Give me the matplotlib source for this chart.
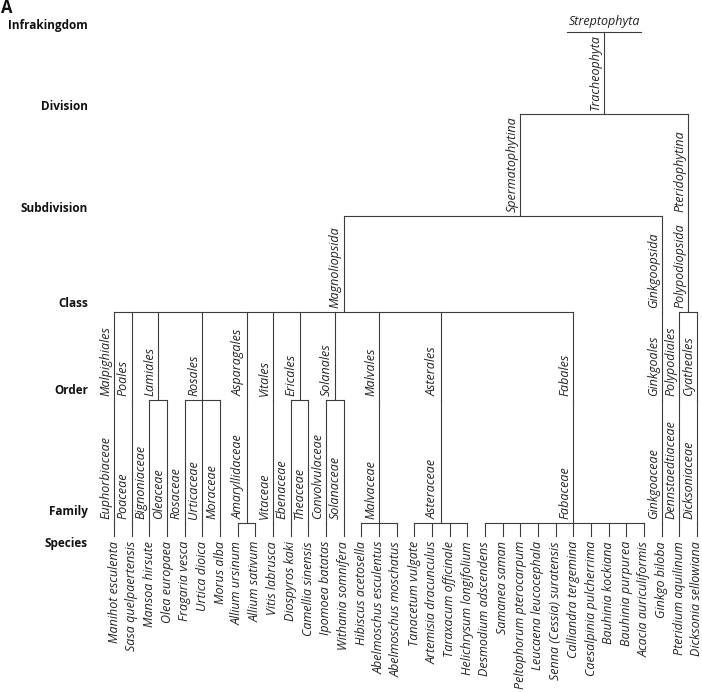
import matplotlib.pyplot as plt

plt.rcParams['font.family'] = ['Open Sans', 'DejaVu Sans']

ranks = ['Infrakingdom', 'Division', 'Subdivision', 'Class', 'Order', 'Family', 'Species']

species = ['Manihot esculenta', 'Sasa quelpaertensis', 'Mansoa hirsute', 'Olea europaea',
           'Fragaria vesca', 'Urtica dioica', 'Morus alba', 'Allium ursinum', 'Allium sativum',
           'Vitis labrusca', 'Diospyros kaki', 'Camellia sinensis', 'Ipomoea batatas',
           'Withania somnifera', 'Hibiscus acetosella', 'Abelmoschus esculentus',
           'Abelmoschus moschatus', 'Tanacetum vulgate', 'Artemisia dracunculus',
           'Taraxacum officinale', 'Helichrysum longifolium', 'Desmodium adscendens',
           'Samanea saman', 'Peltophorum pterocarpum', 'Leucaena leucocephala',
           'Senna (Cessia) suratensis', 'Calliandra tergemina', 'Caesalpinia pulcherrima',
           'Bauhinia kockiana', 'Bauhinia purpurea', 'Acacia auriculiformis', 'Ginkgo biloba',
           'Pteridium aquilinum', 'Dicksonia sellowiana']

families = ['Euphorbiaceae', 'Poaceae', 'Bignoniaceae', 'Oleaceae', 'Rosaceae', 'Urticaceae',
            'Moraceae', 'Amaryllidaceae', 'Vitaceae', 'Ebenaceae', 'Theaceae', 'Convolvulaceae',
            'Solanaceae', 'Malvaceae', 'Asteraceae', 'Fabaceae', 'Ginkgoaceae',
            'Dennstaedtiaceae', 'Dicksoniaceae']
family_size = [1, 1, 1, 1, 1, 1, 1, 2, 1, 1, 1, 1, 1, 3, 4, 10, 1, 1, 1]

orders = ['Malpighiales', 'Poales', 'Lamiales', 'Rosales', 'Asparagales', 'Vitales', 'Ericales',
          'Solanales', 'Malvales', 'Asterales', 'Fabales', 'Ginkgoales', 'Polypodiales',
          'Cyatheales']
order_size = [1, 1, 2, 3, 1, 1, 2, 2, 1, 1, 1, 1, 1, 1]

classes = ['Magnoliopsida', 'Ginkgoopsida', 'Polypodiopsida']
class_size = [11, 1, 2]

subdivisions = ['Spermatophytina', 'Pteridophytina']
subdivision_size = [2, 1]

divisions = ['Tracheophyta']
division_size = [2]

infrakingdoms = ['Streptophyta']
infrakingdom_size = [1]

# stems not drawn at the middle of their children (species index)
stem_at = {'Fabaceae': 26, 'Spermatophytina': 23}

# layout: y pixel of each rank's bar, and of the row titles
level_y = [32, 114, 216, 312, 400, 523, 536]
title_y = [25, 107, 208, 303, 390, 512, 543]

fig = plt.figure(figsize=(7.02, 6.92), dpi=100)
ax = fig.add_axes([0, 0, 1, 1])
dx = 583 / 33
ax.set_xlim(-114 / dx, 33 + 5 / dx)
ax.set_ylim(692, 0)
ax.axis('off')

line = dict(color='#3c3c3c', lw=0.8, solid_capstyle='projecting')
lab = dict(rotation=90, style='italic', fontsize=9, color='#222222',
           textcoords='offset pixels')

# leaves
xs = list(range(len(species)))
for x, name in zip(xs, species):
    ax.plot([x, x], [level_y[6], level_y[5]], **line)
    ax.annotate(name, (x, level_y[6]), xytext=(0, -5), ha='center', va='top', **lab)

groups = [(families, family_size), (orders, order_size), (classes, class_size),
          (subdivisions, subdivision_size), (divisions, division_size),
          (infrakingdoms, infrakingdom_size)]

child_x = xs
for depth, (names, sizes) in zip([5, 4, 3, 2, 1, 0], groups):
    y = level_y[depth]
    parent_x = []
    start = 0
    for name, n in zip(names, sizes):
        kids = child_x[start:start + n]
        start += n
        x = stem_at.get(name, (kids[0] + kids[-1]) / 2)
        if n > 1:
            ax.plot([kids[0], kids[-1]], [y, y], **line)
        if depth > 0:
            ax.plot([x, x], [y, level_y[depth - 1]], **line)
            ax.annotate(name, (x, y), xytext=(-2, 4), ha='right', va='bottom', **lab)
        else:
            ax.plot([x - 2.1, x + 2.1], [y, y], **line)
            ax.annotate(name, (x, y), xytext=(0, 4), ha='center', va='bottom',
                        **{**lab, 'rotation': 0})
        parent_x.append(x)
    child_x = parent_x

for name, ty in zip(ranks, title_y):
    fig.text(88 / 702, 1 - ty / 692, name, ha='right', va='center',
             fontsize=8.5, fontweight='bold', color='#111111')

fig.text(1 / 702, 1 - 8 / 692, 'A', ha='left', va='center', fontsize=12,
         fontweight='bold', color='#111111')

fig.savefig('out.png', dpi=100)
